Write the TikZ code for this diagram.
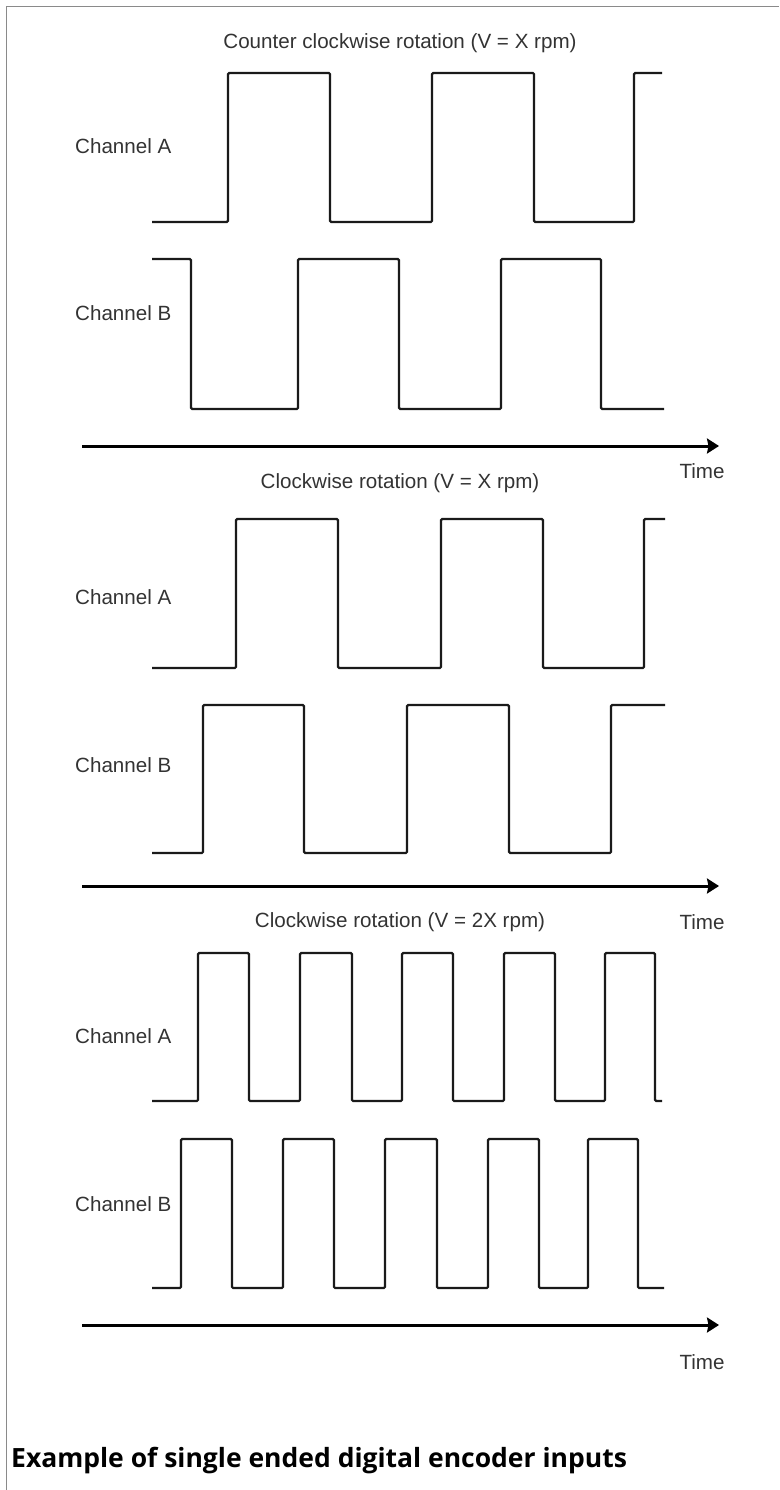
\documentclass[tikz,border=0pt]{standalone}
\usepackage{fontspec}
\setmainfont{Liberation Sans}
\newfontfamily\capfont{Open Sans}
\usetikzlibrary{arrows.meta, positioning}
\definecolor{labelgray}{HTML}{333333}
\definecolor{framegray}{HTML}{8A8A8A}
\definecolor{wavecol}{HTML}{1A1A1A}

\begin{document}
\begin{tikzpicture}[
		x=1pt, y=-1pt,
		every node/.style={font=\fontsize{20.6}{24}\selectfont, text=labelgray, inner sep=0pt},
		wave/.style={draw=wavecol, line width=2.2pt, rounded corners=1.2pt},
		timeaxis/.style={draw=black, line width=3pt, -{Stealth[length=12pt, width=15pt, inset=1.5pt]}},
		chan/.style={anchor=west}
		]
		\useasboundingbox (0,0) rectangle (779,1490);
		
		% === FRAME ===
		\draw[framegray, line width=1.6pt] (6.5,1490) -- (6.5,6.5) -- (779,6.5);
		
		% === COUNTER CLOCKWISE (V = X) ===
		\node (title1) at (400,43) {Counter clockwise rotation (V = X rpm)};
		\node[chan] (chA1) at (75,146) {Channel A};
		\node[chan] (chB1) at (75,313) {Channel B};
		\draw[wave] (152,222) \foreach \x/\y in {228/73, 330/222, 432/73, 534/222, 634/73} {-| (\x,\y)} -- (662,73);
		\draw[wave] (152,259) \foreach \x/\y in {191/409, 298/259, 399/409, 501/259, 601/409} {-| (\x,\y)} -- (664,409);
		
		% === CLOCKWISE (V = X) ===
		\node (title2) at (400,483) {Clockwise rotation (V = X rpm)};
		\node[chan] (chA2) at (75,597) {Channel A};
		\node[chan] (chB2) at (75,765) {Channel B};
		\draw[wave] (152,668) \foreach \x/\y in {236/519, 338/668, 441/519, 543/668, 644/519} {-| (\x,\y)} -- (665,519);
		\draw[wave] (152,853) \foreach \x/\y in {203/705, 304/853, 407/705, 509/853, 611/705} {-| (\x,\y)} -- (665,705);
		
		% === CLOCKWISE (V = 2X) ===
		\node (title3) at (400,922) {Clockwise rotation (V = 2X rpm)};
		\node[chan] (chA3) at (75,1036) {Channel A};
		\node[chan] (chB3) at (75,1204) {Channel B};
		\draw[wave] (152,1101) \foreach \x/\y in {198/953, 249/1101, 300/953, 352/1101, 402/953, 453/1101, 504/953, 555/1101, 605/953, 655/1101} {-| (\x,\y)} -- (662,1101);
		\draw[wave] (152,1288) \foreach \x/\y in {181/1139, 232/1288, 283/1139, 334/1288, 385/1139, 437/1288, 488/1139, 539/1288, 588/1139, 638/1288} {-| (\x,\y)} -- (664,1288);
		
		% === TIME AXES ===
		\foreach \i/\ya/\yt in {1/446/471, 2/886/922, 3/1325/1362} {
			\coordinate (axs\i) at (82,\ya);
			\coordinate (axe\i) at (719,\ya);
			\draw[timeaxis] (axs\i) -- (axe\i);
			\node (time\i) at (702,\yt) {Time};
		}
		
		% === CAPTION ===
		\node[anchor=base west, text=black, font=\capfont\bfseries\fontsize{26.5}{30}\selectfont] (caption) at (11,1467) {Example of single ended digital encoder inputs};
		
	\end{tikzpicture}
\end{document}
